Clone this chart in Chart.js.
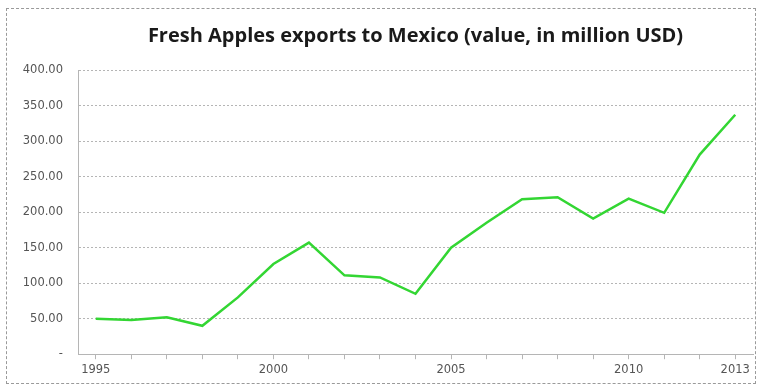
<!DOCTYPE html>
<html lang="en">

<head>
    <meta charset="UTF-8">
    <script src="https://cdn.jsdelivr.net/npm/chart.js@4/dist/chart.umd.min.js"></script>
    <title>Fresh Apples exports to Mexico</title>
    <style>
        body { margin: 0; background: #fff; }
        .moldura {
            position: relative;
            width: 762px;
            height: 388px;
        }
        .borda {
            position: absolute;
            left: 6px;
            top: 8px;
            width: 750px;
            height: 376px;
            border: 1px dashed #9a9a9a;
            box-sizing: border-box;
            pointer-events: none;
        }
        canvas { position: absolute; left: 0; top: 0; }
    </style>
</head>

<body>
    <div class="moldura">
        <canvas id="chart" width="762" height="388"></canvas>
        <div class="borda"></div>
    </div>
</body>

</html>
<script>
    // anos e valores exportados (milhões de USD)
    var anos = ["1995", "1996", "1997", "1998", "1999", "2000", "2001", "2002", "2003", "2004",
        "2005", "2006", "2007", "2008", "2009", "2010", "2011", "2012", "2013"];
    var valores = [50, 48, 52, 40, 80, 127, 157, 111, 108, 85,
        150, 185, 218, 221, 191, 219, 199, 281, 337];
    // anos que aparecem no eixo x
    var anosVisiveis = ["1995", "2000", "2005", "2010", "2013"];

    var cinzaGrade = "#b5b5b5";
    var corTexto = "#555555";
    var fonteEixo = { family: "DejaVu Sans", size: 11.5 };

    var ctx = chart.getContext("2d");

    var config = {
        type: "line",
        data: {
            labels: anos,
            datasets: [
                {
                    label: "Fresh Apples",
                    data: valores,
                    borderColor: "#33d633",
                    borderWidth: 2.5,
                    pointRadius: 0,
                    tension: 0,
                    fill: false,
                },
            ],
        },
        options: {
            responsive: false,
            animation: false,
            layout: {
                padding: { left: 10, right: 9, top: 0, bottom: 7 }
            },
            plugins: {
                legend: { display: false },
                tooltip: { enabled: false },
                title: {
                    display: true,
                    fullSize: false,
                    text: "Fresh Apples exports to Mexico (value, in million USD)",
                    color: "#1a1a1a",
                    font: { family: "Open Sans", size: 20, weight: "bold" },
                    padding: { top: 24, bottom: 22 },
                },
            },
            scales: {
                x: {
                    offset: true,
                    grid: {
                        drawOnChartArea: false,
                        color: cinzaGrade,
                        tickLength: 5,
                    },
                    border: { color: cinzaGrade, dash: [2, 2] },
                    ticks: {
                        autoSkip: false,
                        maxRotation: 0,
                        color: corTexto,
                        font: fonteEixo,
                        padding: 4,
                        callback: function (valor, i) {
                            var ano = anos[i];
                            return anosVisiveis.indexOf(ano) >= 0 ? ano : "";
                        },
                    },
                },
                y: {
                    min: 0,
                    max: 400,
                    afterFit: function (escala) { escala.width = 68; },
                    grid: {
                        color: cinzaGrade,
                        drawTicks: false,
                    },
                    border: { display: true, color: cinzaGrade, dash: [2, 2] },
                    ticks: {
                        stepSize: 50,
                        color: corTexto,
                        padding: 15,
                        font: fonteEixo,
                        callback: function (valor) {
                            return valor === 0 ? "-" : valor.toFixed(2);
                        },
                    },
                },
            },
        },
    };

    // linhas de grade pontilhadas
    config.options.scales.y.grid.borderDash = [2, 2];

    new Chart(ctx, config);
</script>
